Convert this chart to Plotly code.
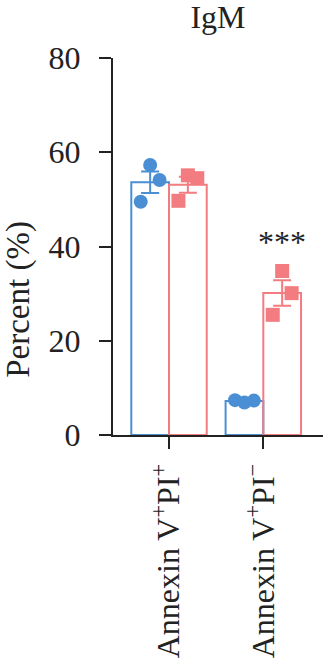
import numpy as np
import plotly.graph_objects as go

# Percent of IgM+ cells in each annexin V / PI gate, three replicates per group
categories = ["Annexin V<sup>+</sup>PI<sup>+</sup>", "Annexin V<sup>+</sup>PI<sup>−</sup>"]
control_values = [[49.5, 57.3, 54.1], [7.4, 6.9, 7.3]]
treated_values = [[49.7, 55.1, 54.5], [25.5, 34.8, 30.1]]
significance = ["", "***"]
y_ticks = [0, 20, 40, 60, 80]

BLUE = "#4A8FD4"
RED = "#F27C80"
INK = "#222"
FONT = "Liberation Serif"
BAR_W = 0.4
JITTER = [-0.1, 0.0, 0.1]

def mean_sem(groups):
    arr = np.array(groups, dtype=float)
    return arr.mean(axis=1), arr.std(axis=1, ddof=1) / np.sqrt(arr.shape[1])

fig = go.Figure()
cat_x = np.arange(len(categories), dtype=float)

for values, color, shift, symbol in [
    (control_values, BLUE, -BAR_W / 2, "circle"),
    (treated_values, RED, BAR_W / 2, "square"),
]:
    means, sems = mean_sem(values)
    centers = cat_x + shift
    # open bars at the group mean
    fig.add_trace(go.Bar(
        x=centers, y=means, width=BAR_W,
        marker=dict(color="rgba(255,255,255,0)", line=dict(color=color, width=2)),
        showlegend=False, hoverinfo="skip",
    ))
    # individual replicates
    px, py = [], []
    for c, vals in zip(centers, values):
        for j, v in zip(JITTER, vals):
            px.append(c + j)
            py.append(v)
    fig.add_trace(go.Scatter(
        x=px, y=py, mode="markers",
        marker=dict(color=color, size=14, symbol=symbol, line=dict(width=0)),
        showlegend=False,
    ))
    # mean ± SEM
    fig.add_trace(go.Scatter(
        x=centers, y=means, mode="markers",
        marker=dict(size=0.1, color="rgba(0,0,0,0)"),
        error_y=dict(type="data", array=sems, color=color, thickness=2, width=9, visible=True),
        showlegend=False,
    ))

t_means, t_sems = mean_sem(treated_values)
for i, label in enumerate(significance):
    if label:
        fig.add_annotation(
            x=cat_x[i] + BAR_W / 2, y=t_means[i] + t_sems[i],
            text=label, showarrow=False, yanchor="bottom", yshift=18,
            font=dict(family=FONT, size=32, color=INK),
        )

fig.add_annotation(
    xref="paper", yref="paper", x=-0.45, y=0.36, xanchor="center", yanchor="middle",
    text="Percent (%)", textangle=-90, showarrow=False,
    font=dict(family=FONT, size=33, color=INK),
)

fig.update_layout(
    width=323, height=661,
    margin=dict(l=113, r=0, t=58, b=226),
    paper_bgcolor="white", plot_bgcolor="white",
    barmode="overlay",
    title=dict(text="IgM", x=0.5, xref="paper", y=1 - 17 / 661, yanchor="middle",
               font=dict(family=FONT, size=32, color=INK)),
    font=dict(family=FONT, size=30, color=INK),
    xaxis=dict(
        range=[-0.594, 1.633], tickvals=list(cat_x), ticktext=categories,
        tickangle=-90, ticks="outside", ticklen=12, tickwidth=2, tickcolor=INK,
        showline=True, linewidth=2, linecolor=INK, showgrid=False, zeroline=False,
        tickfont=dict(family=FONT, size=32, color=INK), ticklabelstandoff=2,
    ),
    yaxis=dict(
        range=[0, 80], tickvals=y_ticks, ticks="outside", ticklen=12, tickwidth=2,
        tickcolor=INK, showline=True, linewidth=2, linecolor=INK,
        showgrid=False, zeroline=False, ticklabelstandoff=12,
        tickfont=dict(family=FONT, size=32, color=INK),
    ),
)

fig.write_html("out.html")
